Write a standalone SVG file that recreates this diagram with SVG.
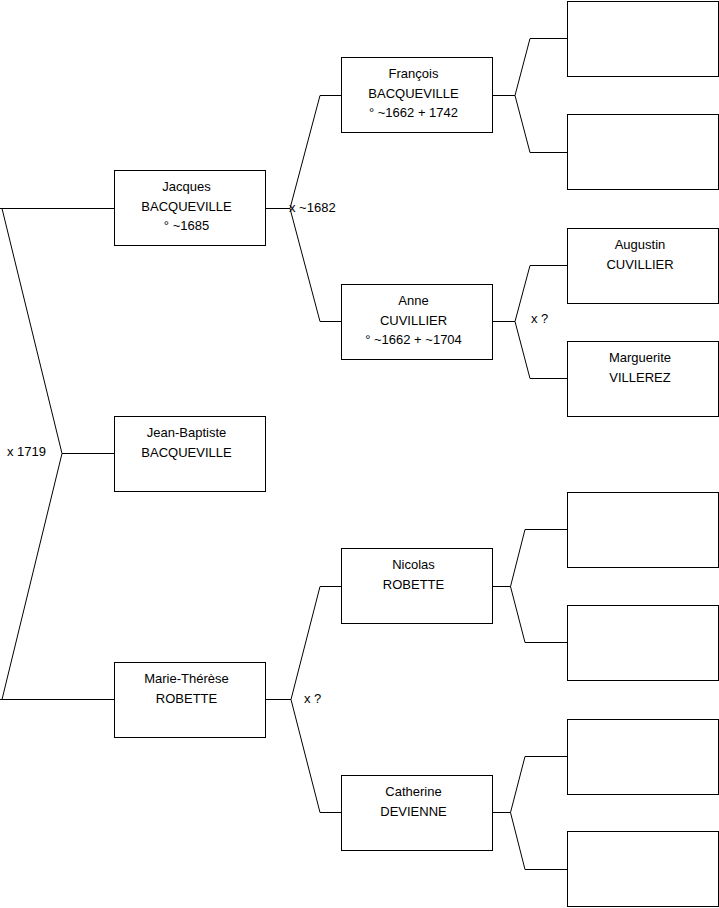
<svg xmlns="http://www.w3.org/2000/svg" width="719" height="908" viewBox="0 0 719 908">
<style>
.box{fill:#fff;stroke:#000;stroke-width:1}
.ln{fill:none;stroke:#000;stroke-width:1}
text{font-family:"Liberation Sans",Arial,sans-serif;font-size:13px;fill:#000}
.c{text-anchor:middle}
</style>
<rect width="719" height="908" fill="#fff"/>
<g id="connectors">
<path class="ln" d="M0,208.5H114.5 M62,453.5H114.5 M0,699.5H114.5 M2,208.5L62,453.5L2,699.5"/>
<path class="ln" d="M265.5,208.5H290 M320,95.5L290,208.5L320,321.5 M320,95.5H341.5 M320,321.5H341.5"/>
<path class="ln" d="M492.5,95.5H515 M530,38.5L515,95.5L530,152.5 M530,38.5H567.5 M530,152.5H567.5"/>
<path class="ln" d="M492.5,321.5H515 M530,265.5L515,321.5L530,378.5 M530,265.5H567.5 M530,378.5H567.5"/>
<path class="ln" d="M265.5,699.5H291 M320,586.5L291,699.5L320,812.5 M320,586.5H341.5 M320,812.5H341.5"/>
<path class="ln" d="M492.5,586.5H510.5 M525,529.5L510.5,586.5L525,642.5 M525,529.5H567.5 M525,642.5H567.5"/>
<path class="ln" d="M492.5,812.5H510.5 M525,756.5L510.5,812.5L525,869.5 M525,756.5H567.5 M525,869.5H567.5"/>
<text x="7" y="456">x 1719</text>
<text x="289" y="211.5">x ~1682</text>
<text x="531" y="323">x ?</text>
<text x="304" y="702.5">x ?</text>
</g>
<g id="jacques"><rect class="box" x="114.5" y="170.5" width="151" height="75"/>
<text class="c" x="186.5" y="191">Jacques</text><text class="c" x="186.5" y="210.5">BACQUEVILLE</text><text class="c" x="186.5" y="230">° ~1685</text></g>
<g id="jean-baptiste"><rect class="box" x="114.5" y="416.5" width="151" height="75"/>
<text class="c" x="186.5" y="437">Jean-Baptiste</text><text class="c" x="186.5" y="456.5">BACQUEVILLE</text></g>
<g id="marie-therese"><rect class="box" x="114.5" y="662.5" width="151" height="75"/>
<text class="c" x="186.5" y="683">Marie-Thérèse</text><text class="c" x="186.5" y="702.5">ROBETTE</text></g>
<g id="francois"><rect class="box" x="341.5" y="57.5" width="151" height="75"/>
<text class="c" x="413.5" y="78">François</text><text class="c" x="413.5" y="97.5">BACQUEVILLE</text><text class="c" x="413.5" y="117">° ~1662 + 1742</text></g>
<g id="anne"><rect class="box" x="341.5" y="284.5" width="151" height="75"/>
<text class="c" x="413.5" y="305">Anne</text><text class="c" x="413.5" y="324.5">CUVILLIER</text><text class="c" x="413.5" y="344">° ~1662 + ~1704</text></g>
<g id="nicolas"><rect class="box" x="341.5" y="548.5" width="151" height="75"/>
<text class="c" x="413.5" y="569">Nicolas</text><text class="c" x="413.5" y="588.5">ROBETTE</text></g>
<g id="catherine"><rect class="box" x="341.5" y="775.5" width="151" height="75"/>
<text class="c" x="413.5" y="796">Catherine</text><text class="c" x="413.5" y="815.5">DEVIENNE</text></g>
<g id="ff"><rect class="box" x="567.5" y="1.5" width="151" height="75"/></g>
<g id="fm"><rect class="box" x="567.5" y="114.5" width="151" height="75"/></g>
<g id="augustin"><rect class="box" x="567.5" y="228.5" width="151" height="75"/>
<text class="c" x="640" y="249">Augustin</text><text class="c" x="640" y="268.5">CUVILLIER</text></g>
<g id="marguerite"><rect class="box" x="567.5" y="341.5" width="151" height="75"/>
<text class="c" x="640" y="362">Marguerite</text><text class="c" x="640" y="381.5">VILLEREZ</text></g>
<g id="nf"><rect class="box" x="567.5" y="492.5" width="151" height="75"/></g>
<g id="nm"><rect class="box" x="567.5" y="605.5" width="151" height="75"/></g>
<g id="cf"><rect class="box" x="567.5" y="719.5" width="151" height="75"/></g>
<g id="cm"><rect class="box" x="567.5" y="831.5" width="151" height="75"/></g>
</svg>
